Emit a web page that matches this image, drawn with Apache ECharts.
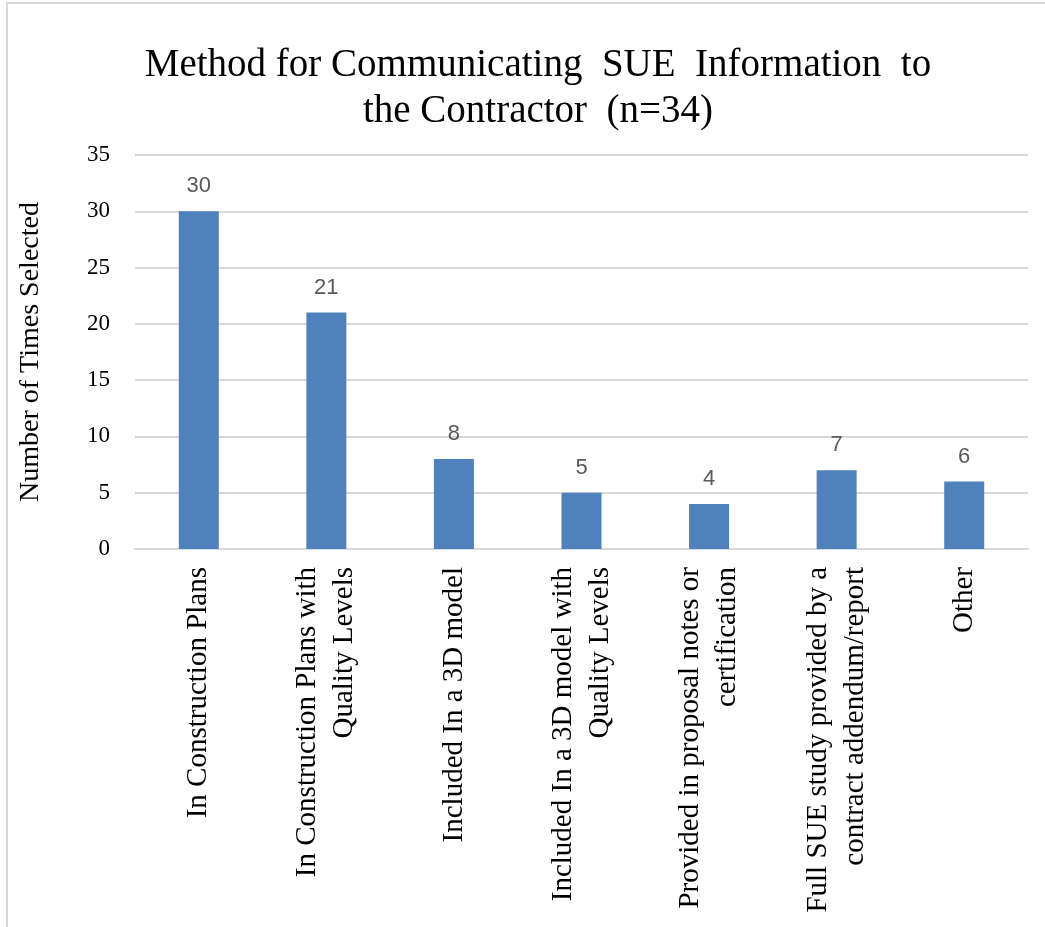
<!DOCTYPE html>
<html>
<head>
<meta charset="utf-8">
<script src="https://cdn.jsdelivr.net/npm/echarts@6/dist/echarts.min.js"></script>
<style>
html,body{margin:0;padding:0;background:#fff;}
#chart{width:1045px;height:927px;}
</style>
</head>
<body>
<div id="chart"></div>
<script>
const categories = [
  "In Construction Plans",
  "In Construction Plans with\nQuality Levels",
  "Included In a 3D model",
  "Included In a 3D model with\nQuality Levels",
  "Provided in proposal notes or\ncertification",
  "Full SUE study provided by a\ncontract addendum/report",
  "Other"
];
const timesSelected = [30, 21, 8, 5, 4, 7, 6];
const yTicks = { min: 0, max: 35, interval: 5 };
const titleText = "Method for Communicating  SUE  Information  to\nthe Contractor  (n=34)";
const yAxisName = "Number of Times Selected";

const chart = echarts.init(document.getElementById('chart'), null, { renderer: 'canvas' });
chart.setOption({
  animation: false,
  backgroundColor: '#fff',
  graphic: [{
    type: 'rect',
    shape: { x: 7, y: 3, width: 1100, height: 1000 },
    style: { fill: 'none', stroke: '#d9d9d9', lineWidth: 2 },
    silent: true
  }],
  title: {
    text: titleText,
    left: 533,
    top: 38,
    textAlign: 'center',
    textStyle: {
      fontFamily: 'Liberation Serif',
      fontSize: 39,
      fontWeight: 'normal',
      color: '#000',
      lineHeight: 46
    }
  },
  grid: { left: 135, right: 17, top: 155, bottom: 378, containLabel: false },
  xAxis: {
    type: 'category',
    data: categories,
    axisLine: { show: true, lineStyle: { color: '#d9d9d9', width: 2 } },
    axisTick: { show: false },
    axisLabel: {
      rotate: 90,
      interval: 0,
      margin: 18,
      fontFamily: 'Liberation Serif',
      fontSize: 29,
      lineHeight: 37,
      color: '#000'
    }
  },
  yAxis: {
    type: 'value',
    min: yTicks.min,
    max: yTicks.max,
    interval: yTicks.interval,
    name: yAxisName,
    nameLocation: 'middle',
    nameGap: 90,
    nameRotate: 90,
    nameTextStyle: {
      fontFamily: 'Liberation Serif',
      fontSize: 28,
      color: '#000'
    },
    axisLine: { show: false },
    axisTick: { show: false },
    splitLine: { lineStyle: { color: '#d9d9d9', width: 2 } },
    axisLabel: {
      margin: 25,
      fontFamily: 'Liberation Serif',
      fontSize: 23,
      color: '#000'
    }
  },
  series: [{
    type: 'bar',
    data: timesSelected,
    barWidth: 40,
    itemStyle: { color: '#4f81bd' },
    label: {
      show: true,
      position: 'top',
      distance: 14,
      fontFamily: 'Liberation Sans',
      fontSize: 22,
      color: '#595959'
    }
  }]
});
</script>
</body>
</html>
